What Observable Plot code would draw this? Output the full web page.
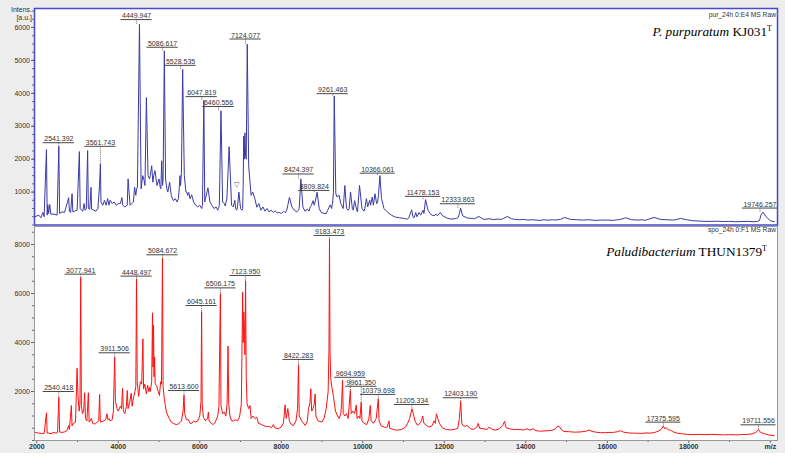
<!DOCTYPE html>
<html><head><meta charset="utf-8">
<script src="https://cdn.jsdelivr.net/npm/d3@7"></script>
<script src="https://cdn.jsdelivr.net/npm/@observablehq/plot@0.6"></script>
<style>
body{margin:0;background:#fff;}
#wrap{position:relative;width:785px;height:458px;background:#fff;font-family:"Liberation Sans",Arial,sans-serif;overflow:hidden;}
#bg{position:absolute;left:0;top:0;width:785px;height:453px;background:#ededed;}
.pl{position:absolute;left:0;}
.title{position:absolute;font-family:"Liberation Serif","Times New Roman",serif;font-size:13.3px;line-height:16px;color:#000;white-space:nowrap;}
.title sup{font-size:8px;vertical-align:5px;line-height:0;}
.raw{position:absolute;font-size:6.7px;line-height:8px;color:#333;white-space:nowrap;}
.ylab{position:absolute;font-size:7px;line-height:8px;color:#333;text-align:right;width:32px;left:0;}
</style></head><body>
<div id="wrap"><div id="bg"></div></div>
<script>
// ---- P. purpuratum KJ031T spectrum (m/z, intensity a.u.) ----
const purMz = [1950,2050,2100,2150,2180,2237,2255,2270,2290,2318,2345,2420,2500,2541,2560,2620,2680,2783,2800,2830,2866,2885,2930,2990,3045,3065,3100,3130,3160,3185,3215,3248,3265,3300,3331,3345,3400,3450,3500,3540,3561,3575,3620,3660,3700,3740,3770,3800,3850,3900,3950,4000,4050,4090,4110,4160,4220,4240,4290,4330,4370,4400,4430,4450,4470,4520,4560,4600,4635,4655,4690,4730,4766,4785,4820,4849,4870,4900,4950,5000,5028,5045,5065,5086,5100,5130,5160,5192,5215,5260,5300,5350,5400,5440,5476,5495,5515,5528,5550,5580,5620,5660,5682,5700,5730,5760,5800,5850,5900,5950,6000,6047,6065,6100,6122,6140,6200,6250,6300,6350,6400,6440,6460,6480,6520,6560,6600,6625,6644,6665,6720,6780,6820,6860,6880,6906,6925,6960,7000,7035,7052,7065,7078,7092,7108,7124,7140,7165,7200,7233,7260,7300,7350,7400,7450,7500,7550,7600,7650,7700,7750,7800,7850,7900,7950,8000,8060,8100,8134,8160,8200,8260,8320,8380,8424,8440,8480,8530,8580,8640,8680,8711,8740,8780,8809,8830,8880,8930,8980,9050,9100,9140,9200,9235,9261,9280,9300,9338,9370,9420,9460,9500,9520,9560,9600,9646,9665,9700,9744,9765,9800,9851,9870,9920,9980,10030,10050,10090,10120,10170,10190,10233,10260,10300,10340,10366,10385,10420,10460,10520,10600,10700,10800,10900,11000,11070,11100,11130,11200,11230,11260,11300,11330,11380,11420,11478,11500,11540,11600,11650,11700,11750,11800,11830,11900,11960,12050,12150,12250,12300,12333,12360,12400,12450,12550,12650,12700,12740,12850,12950,13000,13100,13200,13300,13400,13450,13550,13650,13750,13850,13950,14050,14150,14250,14350,14450,14550,14650,14720,14800,14850,14950,15100,15250,15400,15550,15700,15850,16000,16150,16250,16320,16450,16600,16750,16850,16920,17000,17150,17300,17450,17600,17680,17800,17950,18100,18250,18400,18550,18700,18850,19000,19150,19300,19450,19600,19680,19720,19746,19770,19820,19900,20000,20100];
const purInt = [250,300,220,380,250,2290,300,620,350,620,330,330,300,2390,350,400,380,830,420,380,950,400,420,450,2230,500,450,420,650,450,500,2260,500,480,1140,480,450,420,500,1200,1860,700,600,750,600,800,600,750,650,700,600,650,650,830,600,550,600,1400,600,650,700,1150,900,1100,1150,6100,1100,1500,1350,1200,3870,1500,1400,1500,1800,1300,1500,1650,1200,1400,1150,1100,1950,1200,1400,5290,1400,1100,1000,1300,900,740,800,700,800,1100,1500,1200,1600,4730,1500,1000,1000,900,990,800,920,700,600,550,600,500,600,3790,700,800,1130,700,590,500,550,450,500,600,3470,700,650,580,700,800,2380,600,550,750,500,450,550,1000,500,450,500,1200,2700,2000,2800,2100,2000,5490,1800,1300,900,1000,800,540,650,450,550,420,500,400,450,380,430,370,380,350,420,370,450,600,840,550,450,400,450,500,1400,550,420,480,420,550,600,740,600,700,995,500,380,350,340,450,610,500,700,1000,3920,950,850,900,650,550,500,1200,500,450,500,1000,500,450,740,450,400,1200,500,420,500,800,550,750,600,850,600,950,650,700,900,1500,800,500,400,300,240,220,200,180,180,220,460,250,220,380,250,380,300,450,350,770,450,350,300,280,330,280,380,280,220,180,190,200,220,300,510,280,220,200,200,190,260,180,170,190,165,180,170,200,260,190,170,160,170,150,160,150,140,160,145,160,150,165,170,230,170,160,150,160,140,150,150,140,160,170,220,160,150,160,140,170,230,170,160,150,160,200,160,130,120,110,110,115,105,110,100,105,110,100,110,120,180,300,390,250,130,100,95,85];

// ---- Paludibacterium THUN1379T spectrum ----
const paluMz = [1960,2050,2120,2180,2237,2255,2300,2350,2420,2470,2510,2540,2560,2620,2680,2740,2780,2800,2849,2865,2900,2950,2989,3010,3040,3060,3078,3095,3120,3150,3175,3195,3230,3266,3285,3310,3340,3370,3400,3440,3480,3520,3542,3560,3620,3690,3723,3745,3770,3800,3850,3880,3911,3930,3970,4000,4050,4080,4105,4125,4160,4200,4220,4240,4280,4318,4340,4380,4410,4430,4448,4465,4500,4540,4575,4604,4620,4650,4690,4720,4750,4766,4785,4820,4840,4852,4865,4878,4890,4905,4940,4980,5010,5040,5060,5084,5100,5130,5180,5250,5300,5350,5420,5480,5550,5590,5613,5630,5670,5720,5760,5800,5850,5900,5950,6000,6030,6045,6060,6090,6140,6190,6211,6230,6280,6330,6380,6440,6470,6506,6520,6560,6600,6640,6670,6693,6710,6740,6780,6830,6880,6930,6980,7020,7052,7065,7080,7095,7108,7124,7140,7160,7200,7233,7260,7300,7356,7400,7440,7479,7550,7643,7700,7760,7807,7840,7930,8000,8053,8094,8120,8160,8200,8250,8299,8360,8400,8422,8440,8500,8586,8640,8667,8700,8725,8745,8780,8810,8831,8850,8900,8995,9050,9102,9150,9170,9183,9196,9215,9240,9280,9330,9380,9420,9460,9480,9503,9520,9560,9600,9640,9695,9715,9760,9800,9840,9860,9900,9930,9961,9980,10030,10100,10150,10184,10205,10260,10330,10380,10400,10450,10550,10600,10643,10660,10750,10850,10950,11050,11100,11150,11205,11240,11280,11340,11400,11440,11470,11500,11560,11620,11700,11750,11780,11806,11840,11880,11950,12050,12150,12250,12330,12370,12403,12430,12470,12520,12560,12640,12720,12800,12830,12870,12950,13050,13100,13150,13250,13350,13430,13477,13520,13620,13720,13830,13950,14032,14100,14180,14250,14360,14450,14550,14650,14720,14790,14830,14870,14934,15050,15200,15350,15480,15548,15620,15720,15835,15950,16050,16150,16250,16324,16400,16570,16700,16850,16950,17050,17150,17250,17320,17375,17410,17450,17500,17555,17620,17718,17850,17964,18100,18250,18400,18550,18700,18850,19000,19150,19300,19450,19550,19650,19711,19760,19848,19950,20094];
const paluInt = [330,300,280,280,1130,300,300,280,330,300,320,1770,350,330,350,400,610,450,1430,600,700,750,2950,1840,1200,1500,6660,1430,1100,1200,1950,900,800,1950,750,800,900,700,680,680,750,800,1880,750,780,850,1090,850,900,800,850,1200,3400,1600,1300,1200,1400,1300,2130,1200,1100,1400,2040,1300,1550,1930,1400,1800,2000,2200,6600,2400,1800,2400,2300,4150,2100,2300,1900,2250,2000,2170,2000,2400,5210,3000,4700,2600,3400,2300,2250,2000,1840,2400,2300,7450,2200,1700,1160,900,750,700,650,680,800,1200,1860,1100,850,850,700,700,800,750,800,1000,1600,5260,1430,950,800,900,1160,800,700,650,750,1000,1400,5990,1430,1100,1160,1000,1500,3850,1500,1000,800,800,850,800,1000,1500,6050,4000,5240,4600,3500,6520,2600,1500,1300,1430,900,1000,890,950,700,680,620,560,580,520,650,520,480,550,720,1460,900,1300,800,650,610,800,1300,3090,1000,800,620,800,1300,1500,2110,1200,1300,1500,1900,1000,800,750,900,1300,2000,3700,8230,3600,2500,2200,1800,1200,1000,900,1100,1500,2450,1100,1000,1100,900,2040,1100,1200,1100,1450,900,1000,900,1560,800,700,650,900,1430,800,700,900,1700,800,600,530,550,800,500,450,420,450,550,700,900,1290,1100,800,620,700,800,1000,700,620,550,600,800,700,1090,900,700,520,450,430,450,500,900,1590,700,600,580,620,480,450,550,700,500,480,450,550,480,420,480,600,780,520,470,450,450,430,480,420,480,400,380,390,400,420,470,590,560,450,370,360,340,350,380,430,370,340,320,320,330,330,360,400,340,300,300,290,310,300,320,380,450,590,480,520,430,420,350,300,270,250,240,250,240,250,240,230,240,230,240,250,270,330,450,330,280,230,200];

// ---- annotated peaks: m/z label, peak intensity, label level (a.u.) ----
const purLabels = ["2541.392","3561.743","4449.947","5086.617","5528.535","6047.819","6460.556","7124.077","8424.397","8809.824","9261.463","10366.061","11478.153","12333.863","19746.257"];
const purPeak   = [2390,1860,6100,5290,4730,3790,3470,5490,1400,995,3920,1500,770,510,390];
const purLevel  = [2500,2390,6240,5400,4850,3900,3600,5650,1550,1050,3990,1575,870,645,515];
const purTriangle = [[6906, 1140]];

const paluLabels = ["2540.418","3077.941","3911.506","4448.497","5084.672","5613.600","6045.161","6506.175","7123.950","8422.283","9183.473","9694.959","9961.350","10379.698","11205.334","12403.190","17375.595","19711.556"];
const paluPeak   = [1770,6660,3400,6600,7450,1860,5260,5990,6520,3090,8230,2040,1560,1700,1290,1590,590,450];
const paluLevel  = [2000,6790,3580,6710,7580,2040,5510,6230,6735,3310,8370,2580,2215,1880,1470,1745,750,640];

const purTicks = [1000,2000,3000,4000,5000,6000];
const paluTicks = [2000,4000,6000,8000];
const xTicks = [2000,4000,6000,8000,10000,12000,14000,16000,18000,20000];
const xMinor = [3000,5000,7000,9000,11000,13000,15000,17000,19000];

const purTitle = ["P. purpuratum", " KJ031", "T"];
const paluTitle = ["Paludibacterium", " THUN1379", "T"];
const purRaw = "pur_24h 0:E4 MS Raw";
const paluRaw = "spo_24h 0:F1 MS Raw";

// ---- build ----
const xDomain = [1944, 20177];
const pxPerMz = (777 - 34) / (xDomain[1] - xDomain[0]);
const labelFont = 7;
// half width of an underlined label (Arial metrics: digit .556em, point .278em) in m/z units
const halfWidth = l => (((l.length - 1) * 0.556 + 0.278) * labelFont / 2 + 1) / pxPerMz;
const toRows = (m, v) => m.map((x, i) => ({mz: x, int: v[i]}));
const labRows = (ls, pk, lv) => ls.map((l, i) => ({mz: +l, label: l, peak: pk[i], level: lv[i], half: halfWidth(l)}));
const font = "Liberation Sans, Arial, sans-serif";
const range = (a, b, s) => d3.range(a, b + 1e-9, s);

function panel({rows, labels, ymax, height, mt, mb, yTicks, yMinor, lineColor, frameColor, xAxis, extra = []}) {
  return Plot.plot({
    width: 785, height, marginLeft: 34, marginRight: 8, marginTop: mt, marginBottom: mb,
    style: {background: "transparent", fontFamily: font, fontSize: "7px", color: "#333", overflow: "visible"},
    x: {domain: xDomain, axis: null},
    y: {domain: [0, ymax], axis: null},
    marks: [
      Plot.frame({fill: "white", stroke: "none"}),
      Plot.line(rows, {x: "mz", y: "int", stroke: lineColor, strokeWidth: 1}),
      Plot.ruleX(labels, {x: "mz", y1: "peak", y2: "level", stroke: "#444", strokeWidth: 0.8, strokeDasharray: "1,1"}),
      Plot.ruleY(labels, {y: "level", x1: d => d.mz - d.half, x2: d => d.mz + d.half, stroke: "#333", strokeWidth: 0.9}),
      Plot.text(labels, {x: "mz", y: "level", text: "label", lineAnchor: "bottom", dy: -1.5, fontSize: labelFont, fill: "#333"}),
      ...extra,
      Plot.axisY({ticks: yMinor, tickSize: 2, text: null, stroke: "#666", label: null}),
      Plot.axisY({ticks: yTicks, tickSize: 3, tickPadding: 1.5, tickFormat: d => String(d), fill: "#333", stroke: "#666", fontSize: 7, label: null}),
      ...(xAxis ? [
        Plot.axisX({ticks: xMinor, tickSize: 2, text: null, stroke: "#666", label: null}),
        Plot.axisX({ticks: xTicks, tickSize: 3, tickPadding: 1, tickFormat: d => d === 20000 ? "m/z" : String(d), fill: "#333", stroke: "#666", fontSize: 7, fontWeight: "bold", label: null})
      ] : []),
      Plot.frame({stroke: frameColor, strokeWidth: frameColor === "#999" ? 1 : 1.5})
    ]
  });
}

const wrap = document.getElementById("wrap");

const topSvg = panel({
  rows: toRows(purMz, purInt), labels: labRows(purLabels, purPeak, purLevel),
  ymax: 6577, height: 230, mt: 8, mb: 5.5, yTicks: purTicks, yMinor: range(0, 6500, 250),
  lineColor: "#3a3aa6", frameColor: "#4848d0", xAxis: false,
  extra: [Plot.text(purTriangle, {x: d => d[0], y: d => d[1], text: () => "\u25BD", fontSize: 7, fill: "#555", lineAnchor: "bottom"})]
});
topSvg.classList.add("pl"); topSvg.style.top = "0px";
wrap.appendChild(topSvg);

const botSvg = panel({
  rows: toRows(paluMz, paluInt), labels: labRows(paluLabels, paluPeak, paluLevel),
  ymax: 8735, height: 233, mt: 1, mb: 18, yTicks: paluTicks, yMinor: range(0, 8500, 500),
  lineColor: "#ff1010", frameColor: "#999", xAxis: true
});
botSvg.classList.add("pl"); botSvg.style.top = "225px";
wrap.insertBefore(botSvg, topSvg);

function addTitle(parts, right, top) {
  const d = document.createElement("div");
  d.className = "title";
  d.style.right = right + "px"; d.style.top = top + "px";
  const i = document.createElement("i"); i.textContent = parts[0];
  const s = document.createElement("span"); s.textContent = parts[1];
  const sup = document.createElement("sup"); sup.textContent = parts[2];
  d.append(i, s, sup);
  wrap.appendChild(d);
}
addTitle(purTitle, 13, 23.5);
addTitle(paluTitle, 18, 243.5);

function addText(cls, txt, css) {
  const d = document.createElement("div");
  d.className = cls; d.textContent = txt;
  Object.assign(d.style, css);
  wrap.appendChild(d);
}
addText("raw", purRaw, {right: "9px", top: "11px"});
addText("raw", paluRaw, {right: "9px", top: "226px"});
addText("ylab", "Intens.", {top: "6px"});
addText("ylab", "[a.u.]", {top: "14px"});
</script>
</body></html>
